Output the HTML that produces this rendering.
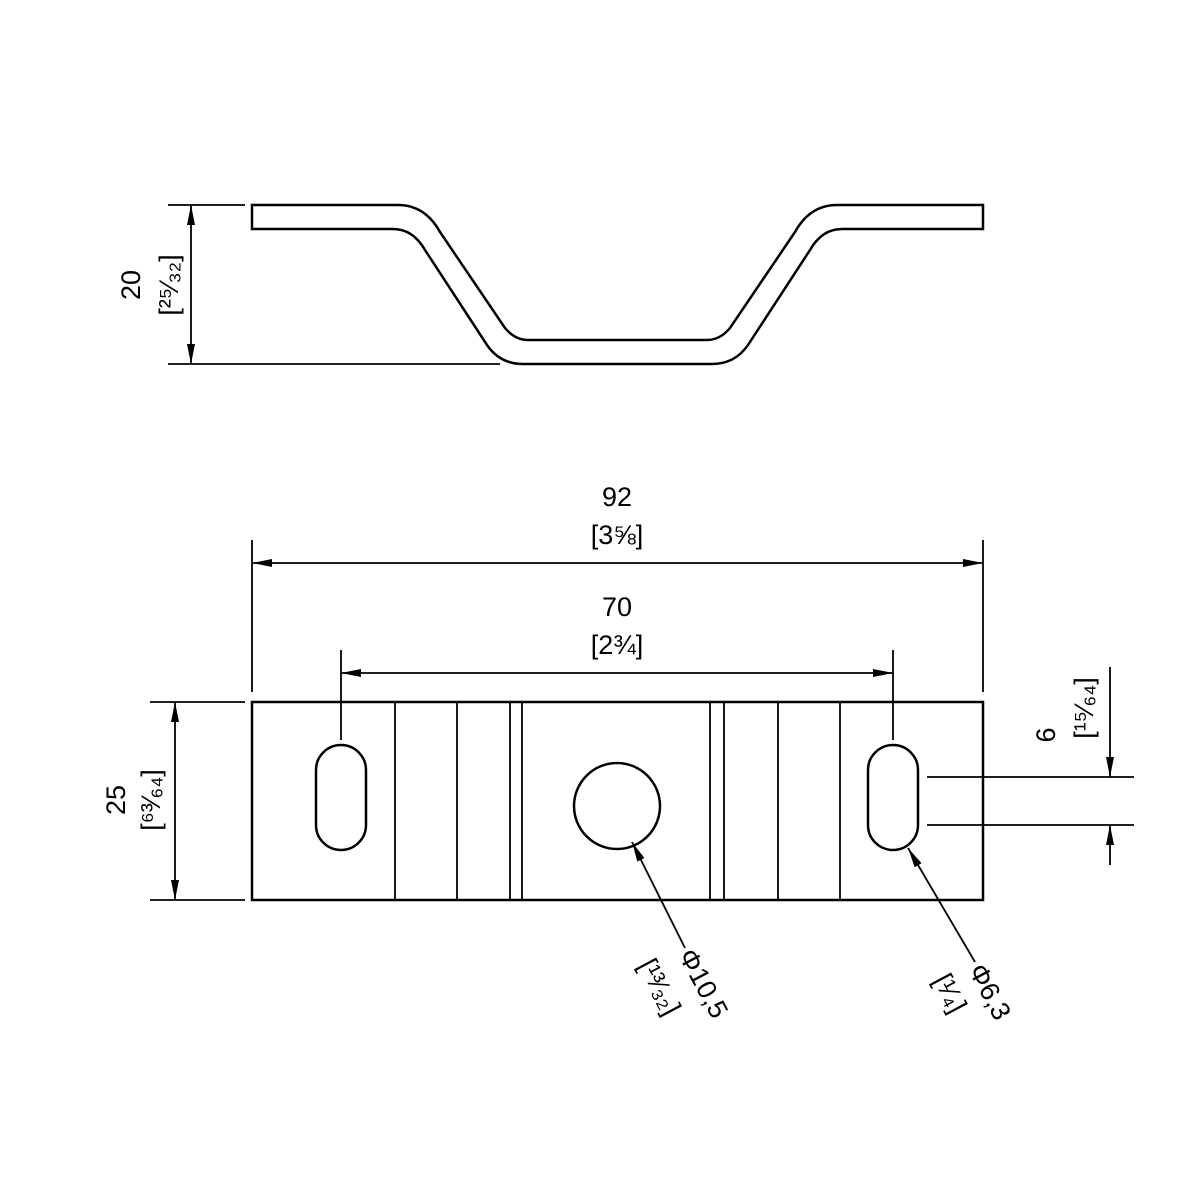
<!DOCTYPE html>
<html><head><style>body{margin:0;background:#fff}svg{display:block}text{font-family:"Liberation Sans",sans-serif;fill:#000}</style></head>
<body>
<svg width="1200" height="1200" viewBox="0 0 1200 1200" xmlns="http://www.w3.org/2000/svg">
<defs>
<marker id="a" viewBox="0 0 20 8" refX="20" refY="4" markerWidth="20" markerHeight="8" markerUnits="userSpaceOnUse" orient="auto"><path d="M0,0L20,4L0,8z" fill="#000"/></marker>
</defs>
<g fill="none" stroke="#000" stroke-width="2.5">
<path d="M252,205 L398,205 Q425,205 440,232 L505,328 Q515,340 528,340 L707,340 Q720,340 730,328 L795,232 Q810,205 837,205 L983,205 L983,229 L842,229 Q822,229 810,250 L748,345 Q735,364 712,364 L523,364 Q500,364 487,345 L425,250 Q413,229 393,229 L252,229 Z"/>
<rect x="252" y="702" width="731" height="198"/>
<rect x="316" y="745" width="50" height="105" rx="25"/>
<rect x="868" y="745" width="50" height="105" rx="25"/>
<circle cx="617" cy="806" r="43"/>
</g>
<g stroke="#000" stroke-width="1.8" fill="none">
<line x1="395" y1="702" x2="395" y2="900"/><line x1="457" y1="702" x2="457" y2="900"/>
<line x1="510" y1="702" x2="510" y2="900"/><line x1="522" y1="702" x2="522" y2="900"/>
<line x1="710" y1="702" x2="710" y2="900"/><line x1="724" y1="702" x2="724" y2="900"/>
<line x1="778" y1="702" x2="778" y2="900"/><line x1="840" y1="702" x2="840" y2="900"/>
<line x1="168" y1="205" x2="245" y2="205"/><line x1="168" y1="364" x2="500" y2="364"/>
<line x1="150" y1="702" x2="245" y2="702"/><line x1="150" y1="900" x2="245" y2="900"/>
<line x1="252" y1="540" x2="252" y2="692"/><line x1="983" y1="540" x2="983" y2="692"/>
<line x1="341" y1="650" x2="341" y2="740"/><line x1="893" y1="650" x2="893" y2="740"/>
<line x1="927" y1="777" x2="1134" y2="777"/><line x1="927" y1="825" x2="1134" y2="825"/>
<line x1="191" y1="285" x2="191" y2="205" marker-end="url(#a)"/><line x1="191" y1="285" x2="191" y2="364" marker-end="url(#a)"/>
<line x1="175" y1="800" x2="175" y2="702" marker-end="url(#a)"/><line x1="175" y1="800" x2="175" y2="900" marker-end="url(#a)"/>
<line x1="617" y1="563" x2="252" y2="563" marker-end="url(#a)"/><line x1="617" y1="563" x2="983" y2="563" marker-end="url(#a)"/>
<line x1="617" y1="673" x2="341" y2="673" marker-end="url(#a)"/><line x1="617" y1="673" x2="893" y2="673" marker-end="url(#a)"/>
<line x1="1110" y1="667" x2="1110" y2="777" marker-end="url(#a)"/><line x1="1110" y1="865" x2="1110" y2="825" marker-end="url(#a)"/>
<line x1="685" y1="948" x2="632" y2="842" marker-end="url(#a)"/>
<line x1="975" y1="962" x2="908" y2="848" marker-end="url(#a)"/>
</g>
<g font-size="27">
<text x="617" y="506" text-anchor="middle">92</text>
<text x="617" y="544" text-anchor="middle">[3⅝]</text>
<text x="617" y="616" text-anchor="middle">70</text>
<text x="617" y="654" text-anchor="middle">[2¾]</text>
<text transform="translate(140,285) rotate(-90)" text-anchor="middle">20</text>
<text transform="translate(178,285) rotate(-90)" text-anchor="middle">[²⁵⁄₃₂]</text>
<text transform="translate(125,800) rotate(-90)" text-anchor="middle">25</text>
<text transform="translate(160,800) rotate(-90)" text-anchor="middle">[⁶³⁄₆₄]</text>
<text transform="translate(1055,735) rotate(-90)" text-anchor="middle">6</text>
<text transform="translate(1093,708) rotate(-90)" text-anchor="middle">[¹⁵⁄₆₄]</text>
<text transform="translate(678,955) rotate(62)">Φ10,5</text>
<text transform="translate(638,965) rotate(62)">[¹³⁄₃₂]</text>
<text transform="translate(968,970) rotate(62)">Φ6,3</text>
<text transform="translate(933,980) rotate(62)">[¹⁄₄]</text>
</g>
</svg>
</body></html>
